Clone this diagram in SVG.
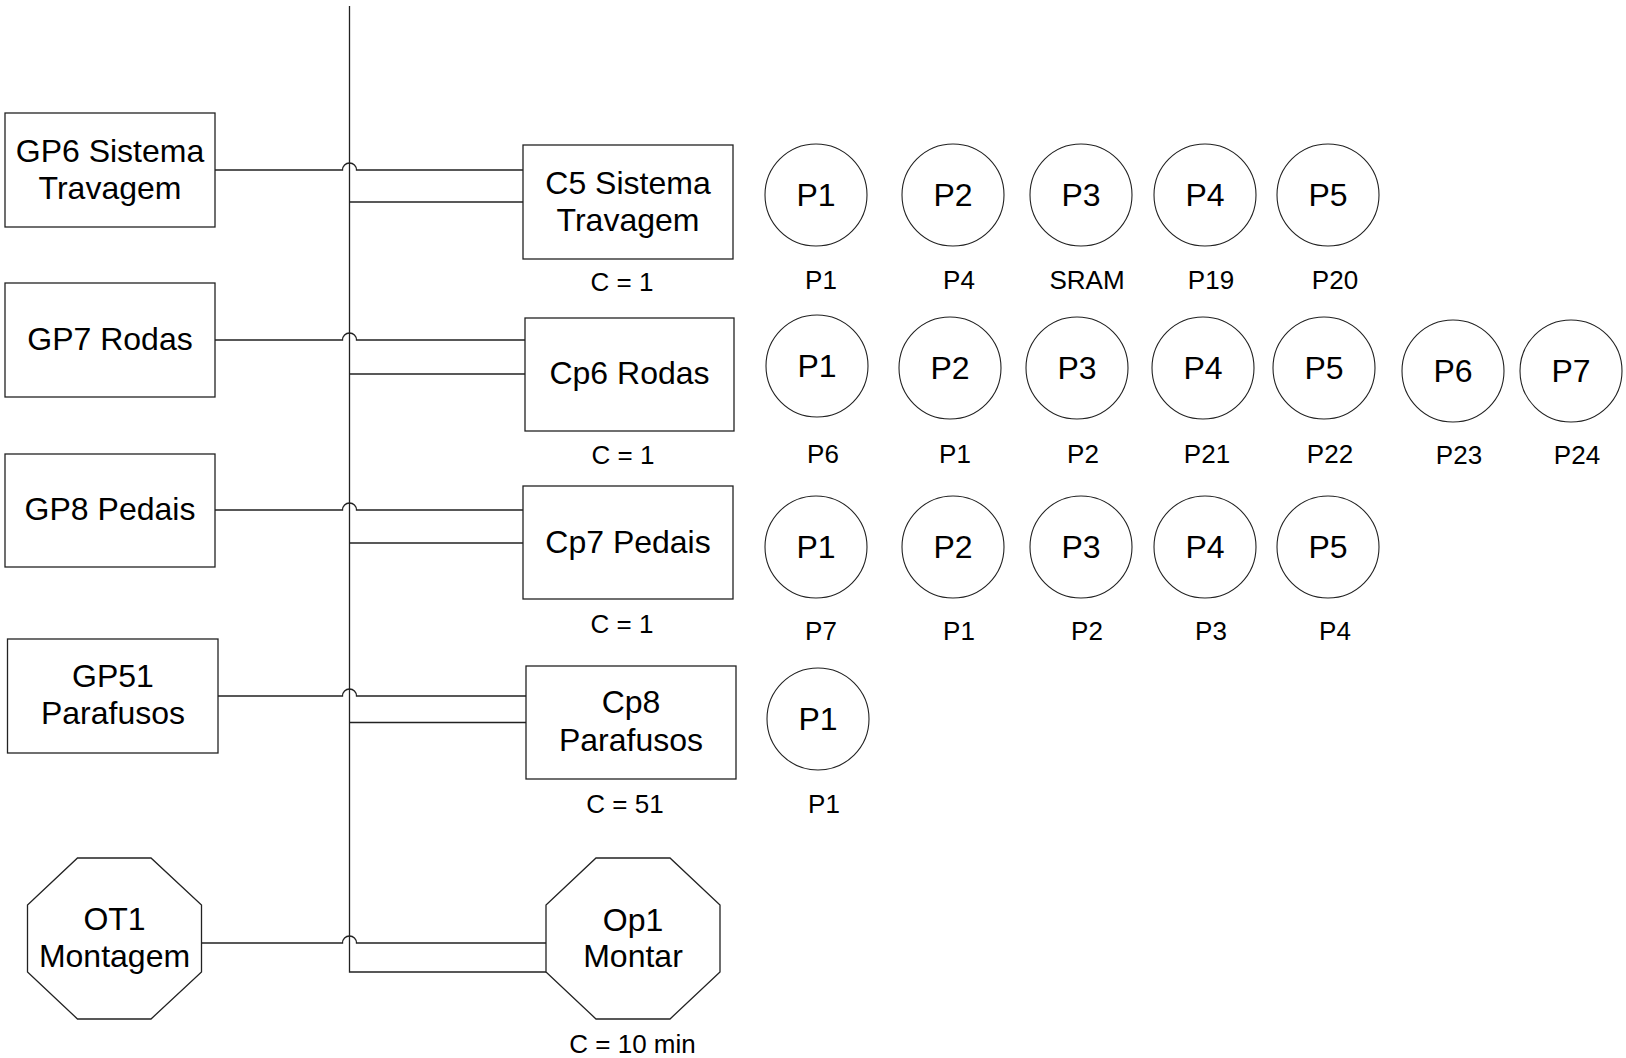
<svg xmlns="http://www.w3.org/2000/svg" width="1626" height="1058" viewBox="0 0 1626 1058">
  <style>
    .box { fill: #ffffff; stroke: #222; stroke-width: 1.3; }
    .part { fill: #ffffff; stroke: #222; stroke-width: 1.1; }
    .wire { fill: none; stroke: #222; stroke-width: 1.3; }
    text { font-family: "Liberation Sans", Arial, sans-serif; fill: #000; text-anchor: middle; }
    .big { font-size: 32px; }
    .small { font-size: 26px; }
  </style>
  <rect width="1626" height="1058" fill="#ffffff"/>

  <!-- connectors: bus line, group links with hops over the bus, and bus taps -->
  <g id="connectors">
    <path class="wire" d="M349.5 6 V972 H546"/>
    <path class="wire" d="M215 170 H342.5 A7 7 0 0 1 356.5 170 H523"/>
    <path class="wire" d="M349.5 202 H523"/>
    <path class="wire" d="M215 340 H342.5 A7 7 0 0 1 356.5 340 H525"/>
    <path class="wire" d="M349.5 374 H525"/>
    <path class="wire" d="M215 510 H342.5 A7 7 0 0 1 356.5 510 H523"/>
    <path class="wire" d="M349.5 543 H523"/>
    <path class="wire" d="M218 696 H342.5 A7 7 0 0 1 356.5 696 H526"/>
    <path class="wire" d="M349.5 722.5 H526"/>
    <path class="wire" d="M201.5 943 H342.5 A7 7 0 0 1 356.5 943 H546"/>
  </g>

  <!-- group boxes -->
  <g id="GP6">
    <rect class="box" x="5" y="113" width="210" height="114"/>
    <text class="big" x="110" y="162">GP6 Sistema</text>
    <text class="big" x="110" y="199">Travagem</text>
  </g>
  <g id="GP7">
    <rect class="box" x="5" y="283" width="210" height="114"/>
    <text class="big" x="110" y="350">GP7 Rodas</text>
  </g>
  <g id="GP8">
    <rect class="box" x="5" y="454" width="210" height="113"/>
    <text class="big" x="110" y="520">GP8 Pedais</text>
  </g>
  <g id="GP51">
    <rect class="box" x="7.5" y="639" width="210.5" height="114"/>
    <text class="big" x="113" y="687">GP51</text>
    <text class="big" x="113" y="724">Parafusos</text>
  </g>
  <g id="OT1">
    <polygon class="box" points="77.5,858 151,858 201.5,905 201.5,972 151,1019 77.5,1019 27.5,972 27.5,905"/>
    <text class="big" x="114.5" y="930">OT1</text>
    <text class="big" x="114.5" y="967">Montagem</text>
  </g>

  <!-- component boxes -->
  <g id="C5">
    <rect class="box" x="523" y="145" width="210" height="114"/>
    <text class="big" x="628" y="194">C5 Sistema</text>
    <text class="big" x="628" y="231">Travagem</text>
    <text class="small" x="622" y="290.5">C = 1</text>
  </g>
  <g id="Cp6">
    <rect class="box" x="525" y="318" width="209" height="113"/>
    <text class="big" x="629.5" y="384">Cp6 Rodas</text>
    <text class="small" x="623" y="463.5">C = 1</text>
  </g>
  <g id="Cp7">
    <rect class="box" x="523" y="486" width="210" height="113"/>
    <text class="big" x="628" y="553">Cp7 Pedais</text>
    <text class="small" x="622" y="632.5">C = 1</text>
  </g>
  <g id="Cp8">
    <rect class="box" x="526" y="666" width="210" height="113"/>
    <text class="big" x="631" y="713">Cp8</text>
    <text class="big" x="631" y="751">Parafusos</text>
    <text class="small" x="625" y="812.5">C = 51</text>
  </g>
  <g id="Op1">
    <polygon class="box" points="596,858 670,858 720,905 720,972 670,1019 596,1019 546,972 546,905"/>
    <text class="big" x="633" y="931">Op1</text>
    <text class="big" x="633" y="967">Montar</text>
    <text class="small" x="632.5" y="1052.5">C = 10 min</text>
  </g>

  <!-- parts of C5 -->
  <g id="C5-P1"><circle class="part" cx="816" cy="195" r="51"/><text class="big" x="816" y="206">P1</text><text class="small" x="821" y="288.5">P1</text></g>
  <g id="C5-P2"><circle class="part" cx="953" cy="195" r="51"/><text class="big" x="953" y="206">P2</text><text class="small" x="959" y="288.5">P4</text></g>
  <g id="C5-P3"><circle class="part" cx="1081" cy="195" r="51"/><text class="big" x="1081" y="206">P3</text><text class="small" x="1087" y="288.5">SRAM</text></g>
  <g id="C5-P4"><circle class="part" cx="1205" cy="195" r="51"/><text class="big" x="1205" y="206">P4</text><text class="small" x="1211" y="288.5">P19</text></g>
  <g id="C5-P5"><circle class="part" cx="1328" cy="195" r="51"/><text class="big" x="1328" y="206">P5</text><text class="small" x="1335" y="288.5">P20</text></g>

  <!-- parts of Cp6 -->
  <g id="Cp6-P1"><circle class="part" cx="817" cy="366" r="51"/><text class="big" x="817" y="377">P1</text><text class="small" x="823" y="462.5">P6</text></g>
  <g id="Cp6-P2"><circle class="part" cx="950" cy="368" r="51"/><text class="big" x="950" y="379">P2</text><text class="small" x="955" y="462.5">P1</text></g>
  <g id="Cp6-P3"><circle class="part" cx="1077" cy="368" r="51"/><text class="big" x="1077" y="379">P3</text><text class="small" x="1083" y="462.5">P2</text></g>
  <g id="Cp6-P4"><circle class="part" cx="1203" cy="368" r="51"/><text class="big" x="1203" y="379">P4</text><text class="small" x="1207" y="462.5">P21</text></g>
  <g id="Cp6-P5"><circle class="part" cx="1324" cy="368" r="51"/><text class="big" x="1324" y="379">P5</text><text class="small" x="1330" y="462.5">P22</text></g>
  <g id="Cp6-P6"><circle class="part" cx="1453" cy="371" r="51"/><text class="big" x="1453" y="382">P6</text><text class="small" x="1459" y="463.5">P23</text></g>
  <g id="Cp6-P7"><circle class="part" cx="1571" cy="371" r="51"/><text class="big" x="1571" y="382">P7</text><text class="small" x="1577" y="463.5">P24</text></g>

  <!-- parts of Cp7 -->
  <g id="Cp7-P1"><circle class="part" cx="816" cy="547" r="51"/><text class="big" x="816" y="558">P1</text><text class="small" x="821" y="639.5">P7</text></g>
  <g id="Cp7-P2"><circle class="part" cx="953" cy="547" r="51"/><text class="big" x="953" y="558">P2</text><text class="small" x="959" y="639.5">P1</text></g>
  <g id="Cp7-P3"><circle class="part" cx="1081" cy="547" r="51"/><text class="big" x="1081" y="558">P3</text><text class="small" x="1087" y="639.5">P2</text></g>
  <g id="Cp7-P4"><circle class="part" cx="1205" cy="547" r="51"/><text class="big" x="1205" y="558">P4</text><text class="small" x="1211" y="639.5">P3</text></g>
  <g id="Cp7-P5"><circle class="part" cx="1328" cy="547" r="51"/><text class="big" x="1328" y="558">P5</text><text class="small" x="1335" y="639.5">P4</text></g>

  <!-- parts of Cp8 -->
  <g id="Cp8-P1"><circle class="part" cx="818" cy="719" r="51"/><text class="big" x="818" y="730">P1</text><text class="small" x="824" y="812.5">P1</text></g>
</svg>
